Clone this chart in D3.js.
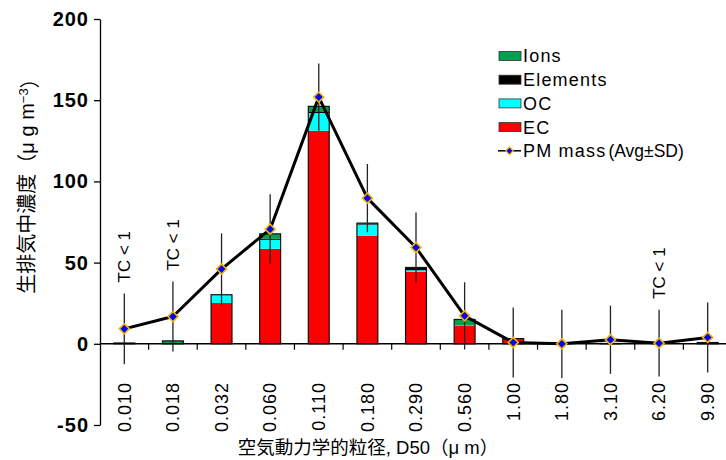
<!DOCTYPE html>
<html>
<head>
<meta charset="utf-8">
<script src="https://cdn.jsdelivr.net/npm/d3@7"></script>
<style>
body { margin: 0; background: #fff; }
text { font-family: "Liberation Sans", Arial, "Noto Sans CJK JP", sans-serif; fill: #000; }
</style>
</head>
<body>
<script>
// particle size bins (D50, um)
var sizes = ["0.010", "0.018", "0.032", "0.060", "0.110", "0.180", "0.290", "0.560", "1.00", "1.80", "3.10", "6.20", "9.90"];

// stacked components (ug m-3), bottom to top: EC, OC, Elements, Ions
var ec       = [0,   0,   25.1, 58.5, 131.2, 66.5, 44.3, 11.3, 3.0, 0, 0,   0, 0];
var oc       = [0,   0,   5.1,  5.5,  10.9,  6.8,  1.0,  0.2,  0,   0, 0,   0, 0];
var elements = [0.5, 0,   0,    0.6,  1.0,   0.4,  1.4,  0,    0.2, 0, 0.2, 0, 0.8];
var ions     = [0,   1.8, 0,    3.1,  3.1,   0.6,  0.3,  3.5,  0,   0, 0,   0, 0];

// PM mass avg and SD
var pmMass = [9.2, 16.8, 46.0, 70.6, 151.9, 89.7, 59.3, 17.2, 0.8, 0.0, 2.5, 0.4, 3.9];
var pmSD   = [21.8, 21.5, 22.0, 21.5, 20.7, 21.0, 21.5, 20.7, 21.5, 21.0, 21.0, 20.5, 21.5];

var tcBelow1 = ["0.010", "0.018", "6.20"];
var yTicks = [-50, 0, 50, 100, 150, 200];

var compNames = ["EC", "OC", "Elements", "Ions"];
var compColors = { "EC": "#ff0000", "OC": "#00ffff", "Elements": "#000000", "Ions": "#00a04c" };

var width = 726, height = 460;

var svg = d3.select("body").append("svg")
    .attr("width", width)
    .attr("height", height);

var x = d3.scaleBand()
    .domain(sizes)
    .range([100, 732])
    .paddingInner(0.57)
    .paddingOuter(0.285);

var y = d3.scaleLinear()
    .domain([-50, 200])
    .range([425, 19]);

function cx(d) { return x(d) + x.bandwidth() / 2; }

// build rows for d3.stack
var rows = sizes.map(function(s, i) {
    return { size: s, EC: ec[i], OC: oc[i], Elements: elements[i], Ions: ions[i] };
});
var stacked = d3.stack().keys(compNames)(rows);

// bars
svg.append("g").selectAll("g")
    .data(stacked)
    .enter().append("g")
        .attr("fill", function(d) { return compColors[d.key]; })
    .selectAll("rect")
    .data(function(d) { return d; })
    .enter().append("rect")
        .attr("x", function(d) { return x(d.data.size); })
        .attr("y", function(d) { return y(d[1]); })
        .attr("width", x.bandwidth())
        .attr("height", function(d) { return y(d[0]) - y(d[1]); });

// outline around each bar
svg.append("g").selectAll("rect")
    .data(rows.filter(function(r) { return r.EC + r.OC + r.Elements + r.Ions > 0; }))
    .enter().append("rect")
        .attr("x", function(d) { return x(d.size); })
        .attr("y", function(d) { return y(d.EC + d.OC + d.Elements + d.Ions); })
        .attr("width", x.bandwidth())
        .attr("height", function(d) { return y(0) - y(d.EC + d.OC + d.Elements + d.Ions); })
        .attr("fill", "none")
        .attr("stroke", "#111")
        .attr("stroke-width", 1.2);

// y axis (plain hyphen for negatives, like the original)
var yAxis = svg.append("g")
    .attr("transform", "translate(100,0)")
    .call(d3.axisLeft(y).tickValues(yTicks).tickSize(6).tickPadding(5).tickSizeOuter(0)
        .tickFormat(function(d) { return String(d); }));
yAxis.select(".domain").attr("stroke", "#000").attr("stroke-width", 1.3);
yAxis.selectAll(".tick line").attr("stroke", "#000").attr("stroke-width", 1.3);
yAxis.selectAll(".tick text")
    .style("font-size", "20px")
    .style("font-weight", "bold")
    .style("letter-spacing", "1px")
    .style("font-family", "'Liberation Sans', Arial, sans-serif");

// x axis line at zero + category divider ticks
svg.append("line")
    .attr("x1", 100).attr("x2", 732)
    .attr("y1", y(0)).attr("y2", y(0))
    .attr("stroke", "#000").attr("stroke-width", 1.5);

svg.append("g").selectAll("line")
    .data(sizes.slice(1))
    .enter().append("line")
        .attr("x1", function(d) { return x(d) - x.step() * x.paddingInner() / 2; })
        .attr("x2", function(d) { return x(d) - x.step() * x.paddingInner() / 2; })
        .attr("y1", y(0))
        .attr("y2", y(0) + 6)
        .attr("stroke", "#000").attr("stroke-width", 1.2);

// rotated size labels
svg.append("g").selectAll("text")
    .data(sizes)
    .enter().append("text")
        .attr("transform", function(d) { return "translate(" + cx(d) + ",382) rotate(-90)"; })
        .attr("text-anchor", "end")
        .attr("dy", "0.35em")
        .style("font-size", "18px")
        .style("letter-spacing", "1px")
        .text(function(d) { return d; });

// error bars (avg +- SD)
svg.append("g").selectAll("line")
    .data(sizes)
    .enter().append("line")
        .attr("x1", cx).attr("x2", cx)
        .attr("y1", function(d, i) { return y(pmMass[i] - pmSD[i]); })
        .attr("y2", function(d, i) { return y(pmMass[i] + pmSD[i]); })
        .attr("stroke", "#222")
        .attr("stroke-width", 1.3);

// TC < 1 notes above the error bars
svg.append("g").selectAll("text")
    .data(tcBelow1)
    .enter().append("text")
        .attr("transform", function(d) {
            var i = sizes.indexOf(d);
            return "translate(" + cx(d) + "," + (y(pmMass[i] + pmSD[i]) - 11) + ") rotate(-90)";
        })
        .attr("dy", "0.35em")
        .style("font-size", "17px")
        .text("TC < 1");

// PM mass line
var line = d3.line()
    .x(function(d, i) { return cx(sizes[i]); })
    .y(function(d) { return y(d); });

svg.append("path")
    .datum(pmMass)
    .attr("d", line)
    .attr("fill", "none")
    .attr("stroke", "#000")
    .attr("stroke-width", 3)
    .attr("stroke-linejoin", "round");

var diamond = d3.symbol().type(d3.symbolSquare).size(50);

svg.append("g").selectAll("path")
    .data(pmMass)
    .enter().append("path")
        .attr("d", diamond)
        .attr("transform", function(d, i) { return "translate(" + cx(sizes[i]) + "," + y(d) + ") rotate(45)"; })
        .attr("fill", "#0000ff")
        .attr("stroke", "#f2b400")
        .attr("stroke-width", 1.6);

// legend
var legendItems = ["Ions", "Elements", "OC", "EC"];
var legend = svg.append("g");

legend.selectAll("rect")
    .data(legendItems)
    .enter().append("rect")
        .attr("x", 499)
        .attr("y", function(d, i) { return 51.5 + i * 23.7; })
        .attr("width", 22)
        .attr("height", 9)
        .attr("fill", function(d) { return compColors[d]; })
        .attr("stroke", "#333")
        .attr("stroke-width", 0.8);

legend.selectAll("text.item")
    .data(legendItems)
    .enter().append("text")
        .attr("class", "item")
        .attr("x", 523)
        .attr("y", function(d, i) { return 56 + i * 23.7; })
        .attr("dy", "0.36em")
        .style("font-size", "18px")
        .style("letter-spacing", "1.2px")
        .text(function(d) { return d; });

var pmRowY = 56 + 4 * 23.7;
legend.append("line")
    .attr("x1", 498).attr("x2", 521)
    .attr("y1", pmRowY).attr("y2", pmRowY)
    .attr("stroke", "#000").attr("stroke-width", 1.5);
legend.append("path")
    .attr("d", d3.symbol().type(d3.symbolSquare).size(28))
    .attr("transform", "translate(509.5," + pmRowY + ") rotate(45)")
    .attr("fill", "#0000ff")
    .attr("stroke", "#f2b400")
    .attr("stroke-width", 1.2);
var pmText = legend.append("text")
    .attr("x", 523)
    .attr("y", pmRowY)
    .attr("dy", "0.36em")
    .style("font-size", "18px");
pmText.append("tspan").style("letter-spacing", "1.2px").text("PM mass");
pmText.append("tspan").attr("dx", 2).style("font-size", "17.5px").text("(Avg±SD)");

// axis titles
var yTitle = svg.append("text")
    .attr("transform", "translate(27,181) rotate(-90)")
    .attr("text-anchor", "middle")
    .attr("dy", "0.35em")
    .style("font-size", "20px");
yTitle.append("tspan").text("生排気中濃度（μ g m");
yTitle.append("tspan").attr("dy", "-0.45em").style("font-size", "13px").text("−3");
yTitle.append("tspan").attr("dy", "0.45em").text("）");

svg.append("text")
    .attr("x", 368)
    .attr("y", 454)
    .attr("text-anchor", "middle")
    .style("font-size", "18.5px")
    .text("空気動力学的粒径, D50（μ m）");
</script>
</body>
</html>
